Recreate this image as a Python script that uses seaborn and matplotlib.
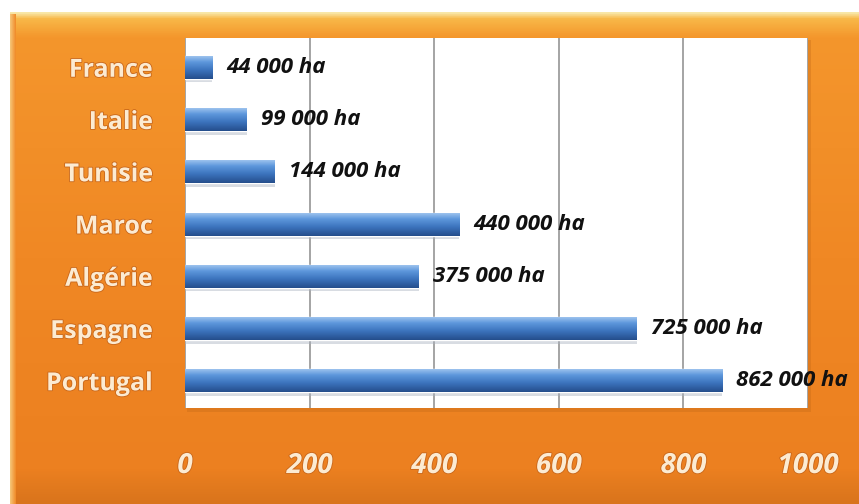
import numpy as np
import pandas as pd
import matplotlib
matplotlib.use("Agg")
import matplotlib.pyplot as plt
import matplotlib.patheffects as pe
from matplotlib.colors import LinearSegmentedColormap
import seaborn as sns

# Surfaces (milliers d'hectares)
countries = ["France", "Italie", "Tunisie", "Maroc", "Algérie", "Espagne", "Portugal"]
surface_kha = [44, 99, 144, 440, 375, 725, 862]
x_ticks = [0, 200, 400, 600, 800, 1000]

df = pd.DataFrame({"pays": countries, "surface": surface_kha})

sns.set_theme(style="white")
plt.rcParams["font.family"] = ["Open Sans", "DejaVu Sans"]

W, H = 859, 504
fig = plt.figure(figsize=(W / 100, H / 100), dpi=100)
fig.patch.set_facecolor("white")

# Orange panel behind the chart, shaded top to bottom
bg = fig.add_axes([0, 0, 1, 1])
bg.set_xlim(0, W)
bg.set_ylim(H, 0)
bg.axis("off")
orange = LinearSegmentedColormap.from_list(
    "panel",
    [(0.0, "#F8E7A8"), (0.012, "#F8B848"), (0.05, "#F4962C"),
     (0.5, "#F08824"), (0.93, "#EC8020"), (1.0, "#D9741C")])
grad = np.linspace(0, 1, 256).reshape(-1, 1)
bg.imshow(grad, cmap=orange, extent=(10, W, H, 12), aspect="auto", zorder=0)
edge = LinearSegmentedColormap.from_list("edge", ["#F6C77A", "#F08A28"])
bg.imshow(np.linspace(0, 1, 32).reshape(1, -1), cmap=edge,
          extent=(10, 16, H, 14), aspect="auto", zorder=1)
# soft shadow under the plot area
bg.add_patch(plt.Rectangle((187, 40), 624, 372, color="#C46A18", alpha=0.35,
                           lw=0, zorder=2))

left, right, top, bottom = 185, 808, 38, 408
ax = fig.add_axes([left / W, 1 - bottom / H, (right - left) / W, (bottom - top) / H])
ax.set_facecolor("white")

sns.barplot(data=df, x="surface", y="pays", orient="h", width=0.44,
            color="#3F7CC6", saturation=1, ax=ax, zorder=3)

# gradient shading on every bar
bar_cmap = LinearSegmentedColormap.from_list(
    "bar", [(0.0, "#9CC2EE"), (0.25, "#5E98DC"), (0.6, "#3C74BE"), (1.0, "#254E8C")])
for p in ax.patches:
    x0, y0 = p.get_x(), p.get_y()
    w, h = p.get_width(), p.get_height()
    im = ax.imshow(np.linspace(0, 1, 64).reshape(-1, 1), cmap=bar_cmap,
                   extent=(x0, x0 + w, y0 + h, y0), aspect="auto", zorder=4)
    im.set_clip_path(p)
    ax.add_patch(plt.Rectangle((x0, y0 + h), w, 0.07, color="#A9B3C0",
                               alpha=0.45, lw=0, zorder=2))

ax.set_xlim(0, 1000)
ax.set_ylim(6.52, -0.56)
ax.set_xticks(x_ticks)
ax.set_xticklabels([str(t) for t in x_ticks])
ax.xaxis.grid(True, color="#8C8C8C", lw=1.1)
ax.set_axisbelow(True)
for s in ax.spines.values():
    s.set_visible(False)
ax.set_xlabel("")
ax.set_ylabel("")

glow = [pe.withStroke(linewidth=1.2, foreground="#C8661A")]
ax.tick_params(axis="x", length=0, pad=31, labelsize=20, labelcolor="#FCEBD2")
ax.tick_params(axis="y", length=0, pad=23, labelsize=18, labelcolor="#FCEBD2")
for t in ax.get_xticklabels():
    t.set_fontweight("bold")
    t.set_fontstyle("italic")
    t.set_path_effects(glow)
for t in ax.get_yticklabels():
    t.set_fontweight("bold")
    t.set_path_effects(glow)

# value labels
for i, v in enumerate(surface_kha):
    txt = f"{v} 000 ha"
    ax.annotate(txt, xy=(v, i), xytext=(10, 0), textcoords="offset points",
                va="center", ha="left", fontsize=16, fontweight="bold",
                fontstyle="italic", color="#111111", zorder=6,
                annotation_clip=False)

fig.savefig("out.png", dpi=100, facecolor=fig.get_facecolor())
